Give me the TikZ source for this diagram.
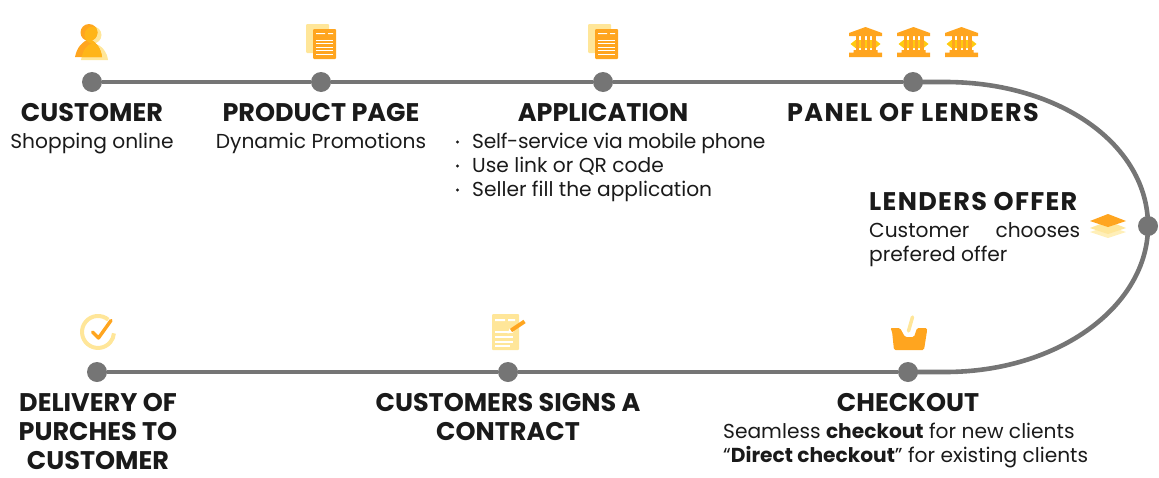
\documentclass[tikz,border=0pt]{standalone}
\usepackage{fontspec}
\setmainfont{Poppins}
\usepackage{tikz}

\definecolor{iconorange}{HTML}{FFA51F}
\definecolor{iconamber}{HTML}{FFB518}
\definecolor{iconyellow}{HTML}{FFE699}
\definecolor{iconpale}{HTML}{FFEFB8}
\definecolor{icongold}{HTML}{FFCB0F}
\definecolor{linegray}{HTML}{757575}
\definecolor{inkblack}{HTML}{1A1A1A}

\newcommand{\headsize}{\fontsize{25.5}{29}\selectfont\bfseries}
\newcommand{\bodysize}{\fontsize{20.2}{24}\selectfont}

\tikzset{
  dot/.style={circle, fill=linegray, minimum size=20pt, inner sep=0pt},
  headtext/.style={inner sep=0pt, anchor=base, align=center, text=inkblack, font=\headsize},
  wideheadtext/.style={headtext, font=\headsize\addfontfeatures{LetterSpace=5.2}},
  bodytext/.style={inner sep=0pt, anchor=base, text=inkblack, font=\bodysize},
  flowline/.style={line width=4.6pt, color=linegray},
  docicon/.pic={
    \fill[iconyellow, rounded corners=1pt] (-15,-58) rectangle (8,-29);
    \fill[iconorange, rounded corners=1pt] (-8,-53) rectangle (15,-23);
    \fill[white] (-5,-49) rectangle (4,-48) (7,-49) rectangle (12,-48);
    \foreach \y in {-42,-39,-35,-32,-28}
      \fill[white] (-5,\y) rectangle (12,\y+1);
  },
  bankicon/.pic={
    \fill[icongold] (-15,2) -- (-10,-2) -- (10,-2) -- (15,2) -- (10,6) -- (-10,6) -- cycle;
    \fill[iconorange] (0,-15) -- (16.5,-9) -- (16.5,-6) -- (-16.5,-6) -- (-16.5,-9) -- cycle;
    \fill[iconorange] (-12,8) rectangle (12,10.5) (-16.5,10.5) rectangle (16.5,15);
    \foreach \x in {-10,-4.5,1,6.5}
      \fill[iconorange] (\x,-6) rectangle (\x+3.5,8);
  }
}

\begin{document}
\begin{tikzpicture}[x=1pt, y=-1pt]
    \useasboundingbox (0,0) rectangle (1159,477);
    % stops along the line
    \node[dot] (customer) at (92,82) {};
    \node[dot] (page) at (321,82) {};
    \node[dot] (application) at (603,82) {};
    \node[dot] (lenders) at (913,82) {};
    \node[dot] (offer) at (1148,226) {};
    \node[dot] (checkout) at (908,372) {};
    \node[dot] (contract) at (508,372) {};
    \node[dot] (delivery) at (97,372) {};
    \draw[flowline] (customer) -- (page);
    \draw[flowline] (page) -- (application);
    \draw[flowline] (application) -- (lenders);
    \draw[flowline] (lenders.center) -- (945,82) .. controls (1060,82) and (1148,145) .. (offer.center);
    \draw[flowline] (offer.center) .. controls (1148,305) and (1060,372) .. (945,372) -- (checkout.center);
    \draw[flowline] (checkout) -- (contract);
    \draw[flowline] (contract) -- (delivery);
    % person
    \fill[iconyellow] (93,35) circle (8.5);
    \fill[iconyellow] (81,60) .. controls (83,50) and (86,45) .. (93,43) .. controls (102,45) and (107,52) .. (108,60) -- cycle;
    \fill[iconorange] (89,32.5) circle (8.5);
    \fill[iconorange] (75,57) .. controls (77,47) and (82,42) .. (89,39) .. controls (97,42) and (101,49) .. (102,57) -- cycle;
    \begin{scope}
      \clip (93,35) circle (8.5) (81,60) .. controls (83,50) and (86,45) .. (93,43) .. controls (102,45) and (107,52) .. (108,60) -- cycle;
      \fill[iconamber] (89,32.5) circle (8.5);
      \fill[iconamber] (75,57) .. controls (77,47) and (82,42) .. (89,39) .. controls (97,42) and (101,49) .. (102,57) -- cycle;
    \end{scope}
    % documents and banks
    \pic at (321,82) {docicon};
    \pic at (603,82) {docicon};
    \pic at (865.5,42) {bankicon};
    \pic at (913.5,42) {bankicon};
    \pic at (961.5,42) {bankicon};
    % stacked layers
    \fill[iconpale] (1108,226) -- (1126,232) -- (1108,238) -- (1090,232) -- cycle;
    \fill[iconyellow] (1108,221) -- (1126,228) -- (1108,234) -- (1090,228) -- cycle;
    \fill[iconorange] (1108,214) -- (1126,221) -- (1108,227) -- (1090,221) -- cycle;
    % check mark
    \draw[iconyellow, line width=4pt] (108.3,319.7) arc (-50:-355:16);
    \draw[iconorange, line width=3.4pt, line cap=round, line join=round] (92.5,332) -- (98.5,338) -- (111,320.5);
    % signed sheet
    \fill[iconyellow, rounded corners=1pt] (492,314) rectangle (519,350);
    \fill[white] (495,319) rectangle (505,321) (508,319) rectangle (515,321);
    \foreach \y in {331,336,341}
      \fill[white] (495,\y) rectangle (513,\y+1.5);
    \fill[white] (495,345) rectangle (510,346.5);
    \fill[white] (507.5,333.5) -- (510,328) -- (514,332) -- cycle;
    \draw[iconorange, line width=4pt] (511,330.5) -- (524.5,321.5);
    % basket
    \draw[iconyellow, line width=3.5pt, line cap=round] (908.5,331) -- (912.5,317);
    \fill[iconorange, rounded corners=1.5pt] (890,328) -- (900,328) -- (905,337) -- (914,337) -- (917,328) -- (927,328) -- (927,331) -- (924,350) -- (894,350) -- (892,331) -- cycle;
    % labels
    \node[headtext] (customerhead) at (92,121) {CUSTOMER};
    \node[bodytext] (customerbody) at (92,148) {Shopping online};
    \node[headtext] (pagehead) at (321,121) {PRODUCT PAGE};
    \node[bodytext] (pagebody) at (321,148) {Dynamic Promotions};
    \node[headtext] (applicationhead) at (603,121) {APPLICATION};
    \node[bodytext, anchor=base west, font=\bodysize\addfontfeatures{LetterSpace=-1.3}] (bulletone) at (472,148) {Self-service via mobile phone};
    \node[bodytext, anchor=base west] (bullettwo) at (472,172) {Use link or QR code};
    \node[bodytext, anchor=base west] (bulletthree) at (472,196) {Seller fill the application};
    \foreach \y in {142,166,190}
      \fill[inkblack] (457.5,\y) circle (1.6);
    \node[wideheadtext] (lendershead) at (913,121) {PANEL OF LENDERS};
    \node[wideheadtext, anchor=base west] (offerhead) at (869,210) {LENDERS OFFER};
    \node[bodytext, anchor=base west] (offerone) at (869,237) {\makebox[211pt][s]{Customer\hfill chooses}};
    \node[bodytext, anchor=base west] (offertwo) at (869,261) {prefered offer};
    \node[headtext] (deliveryone) at (98,411) {DELIVERY OF};
    \node[headtext] (deliverytwo) at (98,440) {PURCHES TO};
    \node[headtext] (deliverythree) at (98,469) {CUSTOMER};
    \node[headtext] (contractone) at (508,411) {CUSTOMERS SIGNS A};
    \node[headtext] (contracttwo) at (508,440) {CONTRACT};
    \node[headtext] (checkouthead) at (908,411) {CHECKOUT};
    \node[bodytext, anchor=base west] (checkoutone) at (723,438) {Seamless \textbf{checkout} for new clients};
    \node[bodytext, anchor=base west] (checkouttwo) at (723,462) {“\textbf{Direct checkout}” for existing clients};
\end{tikzpicture}
\end{document}
